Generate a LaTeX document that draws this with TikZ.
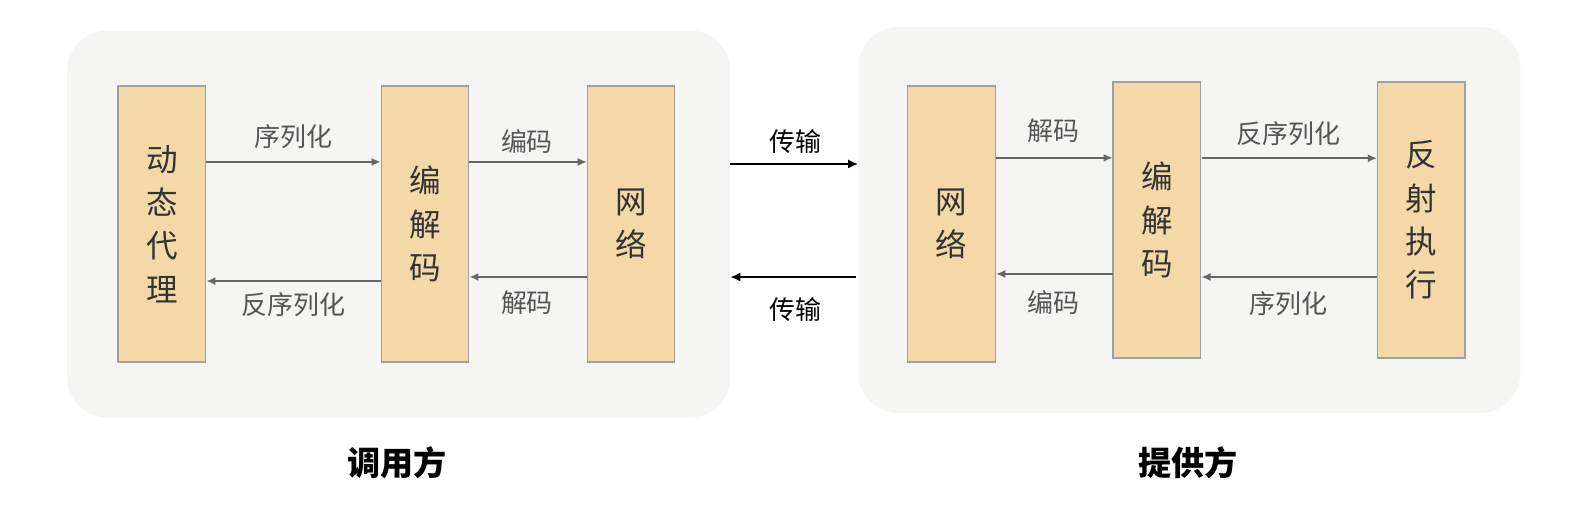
\documentclass[tikz,border=0pt]{standalone}
\usepackage{fontspec}
\setmainfont{Noto Sans CJK SC}
\usetikzlibrary{arrows.meta}
\definecolor{panelbg}{HTML}{F5F5F4}
\definecolor{boxfill}{HTML}{F3D9A8}
\definecolor{boxline}{HTML}{A0A0A0}
\definecolor{arrgray}{HTML}{666666}
\definecolor{lblgray}{HTML}{555555}
\definecolor{boxtext}{HTML}{333333}
\tikzset{
  panel/.style={fill=panelbg, rounded corners=40pt},
  blk/.style={draw=boxline, fill=boxfill, line width=1.3pt, minimum width=86pt, minimum height=271pt,
    inner sep=0pt, align=center, text=boxtext, font=\fontsize{31}{42.5}\selectfont},
  garrow/.style={draw=arrgray, line width=1.6pt, -{Latex[length=9pt,width=8pt]}},
  barrow/.style={draw=black, line width=1.8pt, -{Latex[length=10pt,width=9pt]}},
  lbl/.style={text=lblgray, font=\fontsize{25.5}{30}\selectfont, inner sep=0pt},
  blbl/.style={text=black, font=\fontsize{25.5}{30}\selectfont, inner sep=0pt},
  ttl/.style={text=black, font=\fontsize{32.5}{38}\selectfont\bfseries, inner sep=0pt}
}
\begin{document}
\begin{tikzpicture}[x=1pt,y=-1pt,scale=1.0183,every node/.append style={transform shape}]
\useasboundingbox[fill=white] (0,0) rectangle (1567.3,500.8);
% panels
\path[panel] (66,30) rectangle (717,410);
\path[panel] (843,26.5) rectangle (1493,405.6);
% left boxes
\node[blk] (dp) at (159,220) {动\\态\\代\\理};
\node[blk] (cl) at (417.3,220) {编\\解\\码};
\node[blk] (nl) at (619.7,220) {网\\络};
% right boxes
\node[blk] (nr) at (934.5,220) {网\\络};
\node[blk] (cr) at (1136,216) {编\\解\\码};
\node[blk] (rx) at (1395.5,216) {反\\射\\执\\行};
% left arrows
\draw[garrow] (dp.east |- 0,159) -- (cl.west |- 0,159);
\draw[garrow] (cl.west |- 0,276) -- (dp.east |- 0,276);
\draw[garrow] (cl.east |- 0,159) -- (nl.west |- 0,159);
\draw[garrow] (nl.west |- 0,272) -- (cl.east |- 0,272);
\node[lbl] (l1) at (288,134.5) {序列化};
\node[lbl] (l2) at (288,299.5) {反序列化};
\node[lbl] (l3) at (517.5,138.5) {编码};
\node[lbl] (l4) at (517.5,297.5) {解码};
% middle arrows
\coordinate (ml) at (717,161);
\coordinate (mr) at (842.6,161);
\coordinate (ml2) at (717,272);
\coordinate (mr2) at (840,272);
\draw[barrow] (ml) -- (mr);
\draw[barrow] (mr2) -- (ml2);
\node[blbl] (t1) at (780.7,139.5) {传输};
\node[blbl] (t2) at (780.7,304.4) {传输};
% right arrows
\draw[garrow] (nr.east |- 0,155) -- (cr.west |- 0,155);
\draw[garrow] (cr.west |- 0,269) -- (nr.east |- 0,269);
\draw[garrow] (cr.east |- 0,155.4) -- (rx.west |- 0,155.4);
\draw[garrow] (rx.west |- 0,272) -- (cr.east |- 0,272);
\node[lbl] (r1) at (1035,128) {解码};
\node[lbl] (r2) at (1035,297) {编码};
\node[lbl] (r3) at (1265,130.8) {反序列化};
\node[lbl] (r4) at (1265,297.8) {序列化};
% titles
\node[ttl] (caller) at (390,454) {调用方};
\node[ttl] (provider) at (1167,454) {提供方};
\end{tikzpicture}
\end{document}
